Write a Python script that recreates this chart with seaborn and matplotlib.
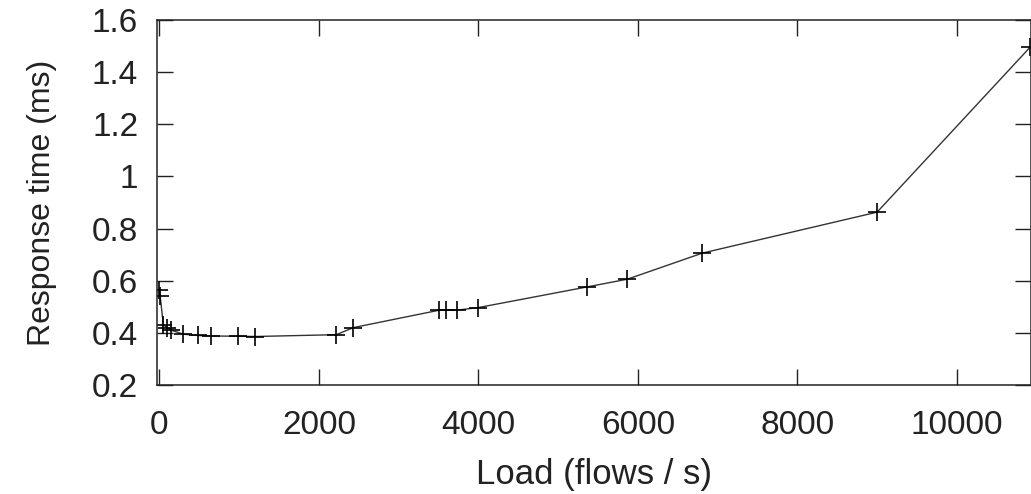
"""Response time vs. load: a single gnuplot-style line with '+' markers."""
import matplotlib
matplotlib.use("Agg")
import matplotlib.pyplot as plt
import pandas as pd
import seaborn as sns

load = [0, 10, 50, 100, 150, 300, 480, 650, 990, 1200, 2220, 2430,
        3510, 3590, 3730, 4000, 5360, 5870, 6810, 9000, 10920]
resp = [0.565, 0.54, 0.43, 0.42, 0.41, 0.395, 0.39, 0.388, 0.387, 0.386,
        0.393, 0.42, 0.487, 0.487, 0.487, 0.497, 0.576, 0.606, 0.706,
        0.863, 1.496]
x_ticks = [0, 2000, 4000, 6000, 8000, 10000]
y_ticks = [0.2, 0.4, 0.6, 0.8, 1.0, 1.2, 1.4, 1.6]
y_tick_labels = ["0.2", "0.4", "0.6", "0.8", "1", "1.2", "1.4", "1.6"]

df = pd.DataFrame({"load": load, "resp": resp})

sns.set_theme(style="ticks", rc={
    "axes.edgecolor": "#222222", "axes.linewidth": 1.1,
    "xtick.direction": "in", "ytick.direction": "in",
    "xtick.top": True, "ytick.right": True,
    "xtick.major.size": 11.5, "ytick.major.size": 11.5,
    "xtick.major.width": 1.0, "ytick.major.width": 1.0,
    "xtick.major.pad": 18, "ytick.major.pad": 13.5,
    "text.color": "#222222", "axes.labelcolor": "#222222",
    "xtick.color": "#222222", "ytick.color": "#222222",
})
plt.rcParams["font.family"] = ["Liberation Sans", "DejaVu Sans"]

fig = plt.figure(figsize=(10.31, 4.94), dpi=100)
ax = fig.add_axes([157 / 1031, 1 - 385 / 494, (1031 - 157) / 1031, (385 - 20) / 494])

sns.lineplot(data=df, x="load", y="resp", ax=ax, estimator=None, sort=False,
             color="#333333", linewidth=1.0, marker="+", markersize=13,
             markeredgewidth=1.2, markeredgecolor="black")

ax.set_xlim(-30, 10930)
ax.set_ylim(0.2, 1.6)
ax.set_xticks(x_ticks)
ax.set_yticks(y_ticks)
ax.set_yticklabels(y_tick_labels)
ax.tick_params(axis="x", labelsize=24)
ax.tick_params(axis="y", labelsize=24)
ax.set_xlabel("Load (flows / s)", fontsize=25, labelpad=12)
ax.set_ylabel("Response time (ms)", fontsize=23, labelpad=25)

fig.savefig("out.png", dpi=100)
